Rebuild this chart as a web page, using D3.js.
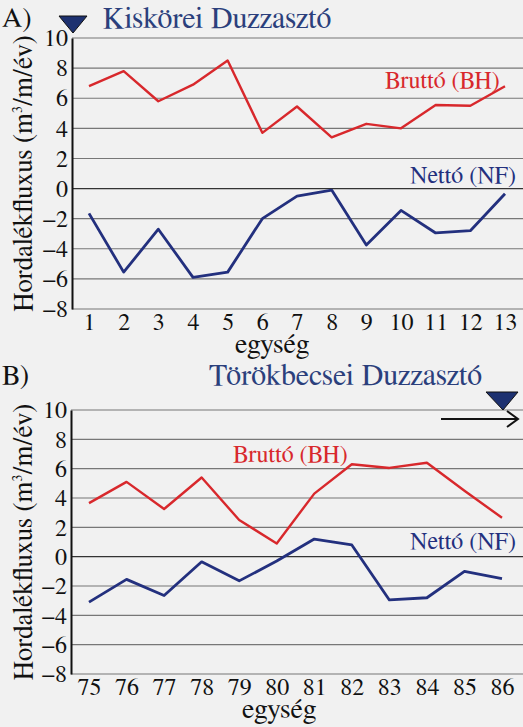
<!DOCTYPE html>
<html><head><meta charset="utf-8">
<script src="https://cdn.jsdelivr.net/npm/d3@7"></script>
<style>html,body{margin:0;padding:0;background:#f1f1f1;}svg{display:block;}</style>
</head><body>
<script>
const unitsA = [1,2,3,4,5,6,7,8,9,10,11,12,13];
const bruttoA = [6.8,7.8,5.8,6.9,8.5,3.7,5.45,3.4,4.3,4.0,5.55,5.5,6.8];
const nettoA = [-1.65,-5.55,-2.7,-5.9,-5.55,-2.0,-0.5,-0.1,-3.75,-1.45,-2.95,-2.8,-0.35];
const unitsB = [75,76,77,78,79,80,81,82,83,84,85,86];
const bruttoB = [3.65,5.1,3.25,5.4,2.5,0.9,4.3,6.3,6.05,6.4,4.5,2.65];
const nettoB = [-3.1,-1.55,-2.65,-0.35,-1.65,-0.3,1.2,0.8,-2.95,-2.8,-1.0,-1.5];
const yTicks = [-8,-6,-4,-2,0,2,4,6,8,10];

const W = 523, H = 727;
const FF = '"FreeSerif", "Liberation Serif", serif';
const svg = d3.select("body").append("svg").attr("width", W).attr("height", H);
const navy = "#23307e", red = "#d8282c";

function panel(cfg) {
  const g = svg.append("g");
  const y = d3.scaleLinear().domain([-8, 10]).range([cfg.yBottom, cfg.yTop]);
  const x = d3.scalePoint().domain(cfg.units).range([cfg.x0, cfg.x1]);
  g.append("g").selectAll("line").data(yTicks).join("line")
    .attr("x1", cfg.axisX).attr("x2", W)
    .attr("y1", d => y(d)).attr("y2", d => y(d))
    .attr("stroke", d => d === 0 ? "#333" : "#777").attr("stroke-width", d => d === 0 ? 1.3 : 1.1);
  const ya = d3.axisLeft(y).tickValues(yTicks).tickSize(0).tickPadding(4);
  const yg = g.append("g").attr("transform", `translate(${cfg.axisX},0)`).call(ya);
  yg.attr("font-family", null).attr("font-size", null);
  yg.select(".domain").attr("stroke", "#111").attr("stroke-width", 2);
  yg.selectAll("text").style("font-family", FF).style("font-size", "24px").attr("fill", "#111");
  const xa = d3.axisBottom(x).tickSize(0).tickPadding(4);
  const xg = g.append("g").attr("transform", `translate(0,${cfg.yBottom})`).call(xa);
  xg.attr("font-family", null).attr("font-size", null);
  xg.select(".domain").remove();
  xg.selectAll("text").style("font-family", FF).style("font-size", "24px").attr("fill", "#111");
  g.append("text").attr("x", cfg.egX).attr("y", cfg.yBottom + 44).attr("text-anchor", "middle")
    .style("font-family", FF).style("font-size", "28px").attr("fill", "#111").text("egység");
  const yt = g.append("text").attr("transform", `translate(${cfg.ytX},${(cfg.yTop + cfg.yBottom) / 2}) rotate(-90)`)
    .attr("text-anchor", "middle").style("font-family", FF).style("font-size", "27px").attr("fill", "#111");
  yt.append("tspan").text("Hordalékfluxus (m");
  yt.append("tspan").style("font-size", "14px").attr("dy", -10).text("3");
  yt.append("tspan").attr("dy", 10).text("/m/év)");
  const line = d3.line().x((d, i) => x(cfg.units[i])).y(d => y(d));
  g.append("path").datum(cfg.brutto).attr("d", line).attr("fill", "none").attr("stroke", red).attr("stroke-width", 2.4).attr("stroke-linejoin", "round");
  g.append("path").datum(cfg.netto).attr("d", line).attr("fill", "none").attr("stroke", navy).attr("stroke-width", 2.8).attr("stroke-linejoin", "round");
  g.append("text").attr("x", cfg.bLab[0]).attr("y", cfg.bLab[1]).style("font-family", FF).style("font-size", "24px").attr("fill", red).text("Bruttó (BH)");
  g.append("text").attr("x", cfg.nLab[0]).attr("y", cfg.nLab[1]).style("font-family", FF).style("font-size", "24px").attr("fill", navy).text("Nettó (NF)");
  g.append("text").attr("x", 2).attr("y", cfg.letterY).style("font-family", FF).style("font-size", "28px").attr("fill", "#111").text(cfg.letter);
  g.append("text").attr("x", cfg.title[0]).attr("y", cfg.title[1]).attr("text-anchor", cfg.title[2])
    .style("font-family", FF).style("font-size", "30px").attr("fill", "#2b3f7c").text(cfg.titleText);
  return {g, x, y};
}

panel({units: unitsA, brutto: bruttoA, netto: nettoA, yTop: 38, yBottom: 309, x0: 89, x1: 505, axisX: 72, ytX: 32, egX: 272,
  bLab: [385, 88], nLab: [410, 183], letter: "A)", letterY: 27, title: [103, 28, "start"], titleText: "Kiskörei Duzzasztó"});
panel({units: unitsB, brutto: bruttoB, netto: nettoB, yTop: 410, yBottom: 674, x0: 89, x1: 502, axisX: 71, ytX: 32, egX: 279,
  bLab: [233, 462], nLab: [410, 549], letter: "B)", letterY: 384, title: [482, 385, "end"], titleText: "Törökbecsei Duzzasztó"});

svg.append("path").attr("d", "M59,16 L87,16 L73,33 Z").attr("fill", "#1d3170").attr("stroke", "#111").attr("stroke-width", 1);
svg.append("path").attr("d", "M486,392 L518,392 L503,410 Z").attr("fill", "#1d3170").attr("stroke", "#111").attr("stroke-width", 1);
svg.append("line").attr("x1", 441).attr("x2", 517).attr("y1", 419).attr("y2", 419).attr("stroke", "#111").attr("stroke-width", 2);
svg.append("path").attr("d", "M507,411 L518,419 L507,427").attr("fill", "none").attr("stroke", "#111").attr("stroke-width", 2);
</script>
</body></html>
